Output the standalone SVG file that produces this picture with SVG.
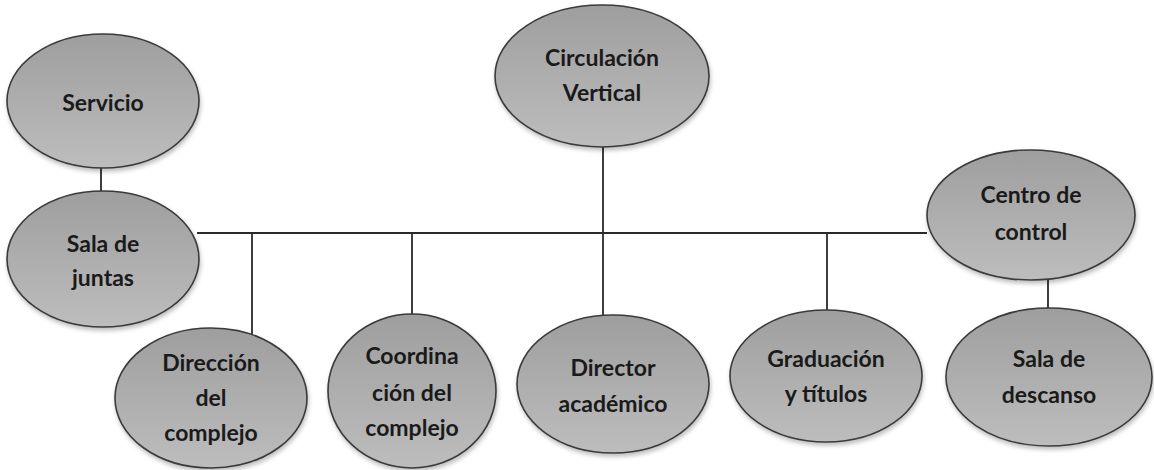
<svg xmlns="http://www.w3.org/2000/svg" width="1154" height="470" viewBox="0 0 1154 470">
<defs>
<linearGradient id="g" x1="0" y1="0" x2="0" y2="1">
<stop offset="0" stop-color="#9e9e9e"/>
<stop offset="1" stop-color="#bdbdbd"/>
</linearGradient>
<filter id="sh" x="-10%" y="-10%" width="125%" height="130%">
<feDropShadow dx="1" dy="3" stdDeviation="2" flood-color="#000" flood-opacity="0.25"/>
</filter>
</defs>
<style>
.n ellipse{fill:url(#g);stroke:#3a3a3a;stroke-width:1.6;filter:url(#sh)}
.n text{font-family:Lato,"Open Sans","Liberation Sans",sans-serif;font-weight:700;font-size:23px;fill:#1a1a1a;text-anchor:middle}
.c line{stroke:#2a2a2a;stroke-width:1.8}
</style>
<rect width="1154" height="470" fill="#fff"/>
<g class="c" id="connectors">
<line x1="101" y1="167" x2="101" y2="191"/>
<line x1="197" y1="233" x2="927" y2="233"/>
<line x1="603" y1="147" x2="603" y2="316"/>
<line x1="252" y1="233" x2="252" y2="335"/>
<line x1="412" y1="233" x2="412" y2="315"/>
<line x1="827" y1="233" x2="827" y2="311"/>
<line x1="1048" y1="279" x2="1048" y2="309"/>
</g>
<g class="n" id="servicio">
<ellipse cx="103" cy="101" rx="96" ry="67"/>
<text x="103" y="111">Servicio</text>
</g>
<g class="n" id="sala-juntas">
<ellipse cx="103" cy="259" rx="96" ry="68"/>
<text x="103" y="252">Sala de</text>
<text x="103" y="286">juntas</text>
</g>
<g class="n" id="circulacion">
<ellipse cx="602" cy="76" rx="107" ry="71"/>
<text x="602" y="66">Circulación</text>
<text x="602" y="101">Vertical</text>
</g>
<g class="n" id="centro-control">
<ellipse cx="1031" cy="215" rx="104" ry="65"/>
<text x="1031" y="203">Centro de</text>
<text x="1031" y="240">control</text>
</g>
<g class="n" id="sala-descanso">
<ellipse cx="1049" cy="377" rx="103" ry="69"/>
<text x="1049" y="367">Sala de</text>
<text x="1049" y="403">descanso</text>
</g>
<g class="n" id="direccion">
<ellipse cx="211" cy="398" rx="96" ry="70"/>
<text x="211" y="371">Dirección</text>
<text x="211" y="406">del</text>
<text x="211" y="441">complejo</text>
</g>
<g class="n" id="coordinacion">
<ellipse cx="412" cy="391" rx="84" ry="77"/>
<text x="412" y="364">Coordina</text>
<text x="412" y="401">ción del</text>
<text x="412" y="436">complejo</text>
</g>
<g class="n" id="director">
<ellipse cx="613" cy="384" rx="96" ry="69"/>
<text x="613" y="376">Director</text>
<text x="613" y="412">académico</text>
</g>
<g class="n" id="graduacion">
<ellipse cx="826" cy="376" rx="96" ry="66"/>
<text x="826" y="367">Graduación</text>
<text x="826" y="402">y títulos</text>
</g>
</svg>
